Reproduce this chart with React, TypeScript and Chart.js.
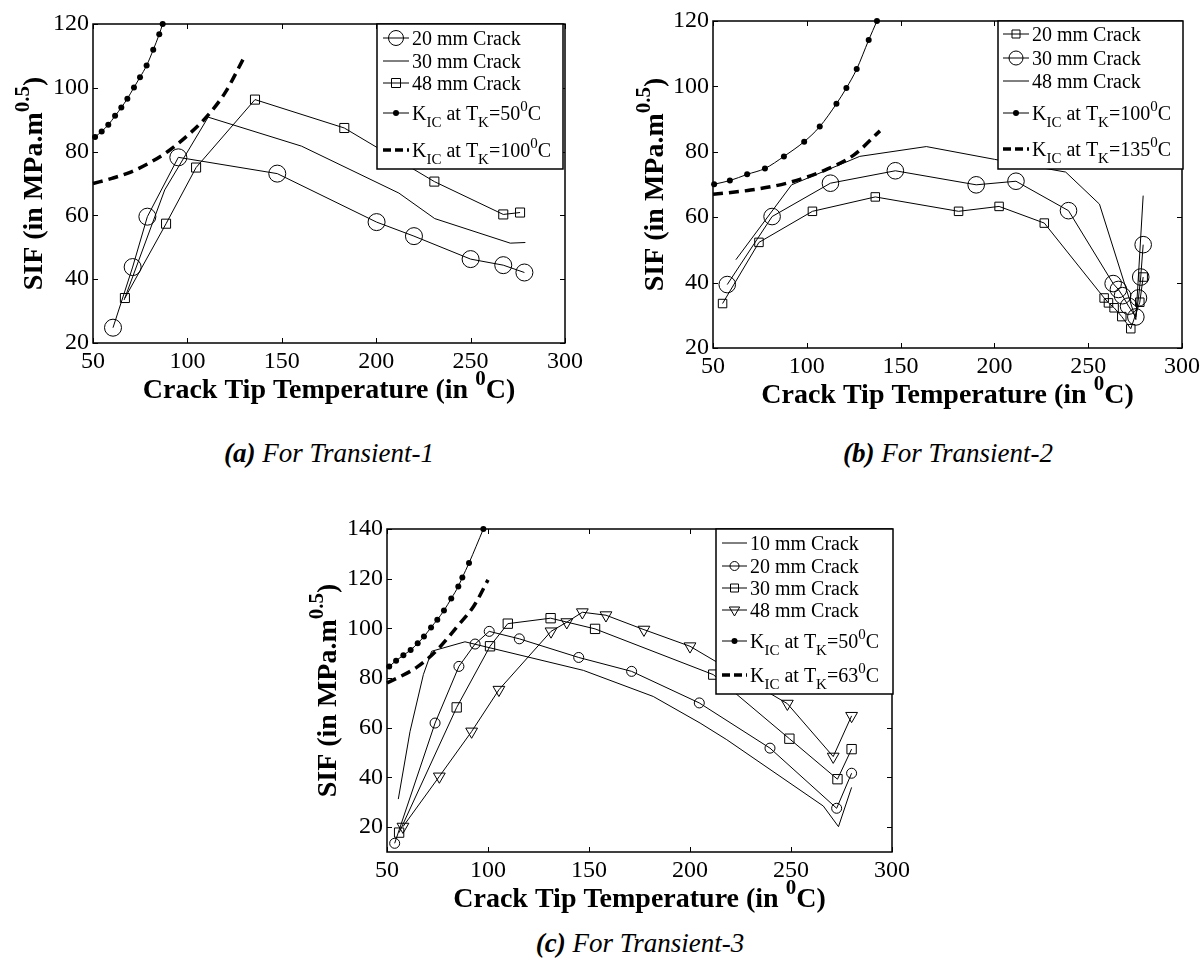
import React, { useEffect, useRef } from 'react';
import { Chart, registerables } from 'chart.js';

Chart.register(...registerables);

const FONT = '"Liberation Serif", "Times New Roman", Times, serif';

// ---------- Panel (a): Transient-1 ----------
const A_TEMP_20 = [60.6, 71, 78.8, 95.2, 147.6, 200.2, 220, 250, 267.3, 278.5];
const A_SIF_20 = [24.8, 43.8, 59.6, 78.2, 73.1, 57.9, 53.5, 46.3, 44.4, 42.1];
const A_TEMP_30 = [66.5, 88, 111, 160.5, 212, 231, 271, 279];
const A_SIF_30 = [33.5, 68, 90.8, 81.7, 67, 59, 51.3, 51.5];
const A_TEMP_48 = [66.9, 88.7, 104.6, 135.8, 183.1, 230.8, 267.3, 276.2];
const A_SIF_48 = [34.1, 57.4, 75, 96.3, 87.4, 70.6, 60.3, 60.9];
const A_TEMP_K50 = [51.1, 54.6, 58.1, 61.7, 65, 68.2, 71.7, 74.9, 78.4, 81.9, 85.1, 86.9];
const A_SIF_K50 = [84.6, 86.3, 88.4, 91.2, 93.8, 96.6, 100.1, 103.3, 107, 111.9, 116.8, 120];
const A_TEMP_K100 = [50, 60, 70, 80, 90, 100, 110, 120, 130];
const A_SIF_K100 = [70, 71.6, 73.6, 76.5, 80.2, 85, 90.8, 98.5, 109.5];

// ---------- Panel (b): Transient-2 ----------
const B_TEMP_20 = [55.1, 74.5, 103, 136.5, 180.9, 202.5, 226.6, 258.5, 260.8, 263.8, 267.9, 272.7, 277.5, 279.3];
const B_SIF_20 = [33.6, 52.3, 61.8, 66.2, 61.8, 63.3, 58.2, 35.3, 33.8, 32.3, 29.6, 25.9, 34, 41.7];
const B_TEMP_30 = [57.6, 81.5, 112.6, 147.2, 190.3, 211.5, 239.5, 263.3, 266.1, 268.3, 271.5, 275.4, 276.8, 278, 279.3];
const B_SIF_30 = [39.4, 60.2, 70.4, 74.2, 69.9, 71, 62, 39.7, 37.9, 36, 32.8, 29.5, 35.3, 41.7, 51.6];
const B_TEMP_48 = [62.2, 91.9, 128.2, 163.7, 200, 238, 256, 275.4, 279.3];
const B_SIF_48 = [47, 69.9, 78.6, 81.6, 77.7, 73.8, 64, 28.7, 66.6];
const B_TEMP_K100 = [50.6, 59, 68.2, 77.7, 87.8, 98.6, 106.9, 115.8, 121.1, 126.6, 133, 137.4];
const B_SIF_K100 = [70.1, 71.2, 73.1, 74.9, 78.6, 83.1, 87.7, 94.7, 99.5, 105.3, 114.2, 120];
const B_TEMP_K135 = [50, 70, 90, 110, 125, 139];
const B_SIF_K135 = [67, 68.3, 70.5, 74.5, 79, 86.4];

// ---------- Panel (c): Transient-3 ----------
const C_TEMP_10 = [55.6, 61.4, 68, 72.1, 88.6, 147.2, 181.8, 205, 218.2, 266, 273.5, 280];
const C_SIF_10 = [31.3, 58.5, 81.4, 90.8, 94.6, 83.1, 72.6, 61.9, 55.2, 28.5, 20.2, 36];
const C_TEMP_20 = [53.8, 73.8, 85.6, 93.6, 100.6, 115.5, 144.9, 171.1, 204.6, 239.6, 272.6, 280];
const C_SIF_20 = [13.5, 61.9, 84.7, 93.7, 98.8, 95.8, 88.3, 82.7, 70, 51.8, 27.6, 41.7];
const C_TEMP_30 = [56, 84.5, 101, 109.8, 131, 153, 211.5, 249.2, 273, 280];
const C_SIF_30 = [17.8, 68.2, 92.8, 101.9, 104.1, 99.8, 81.4, 55.6, 39.3, 51.4];
const C_TEMP_48 = [57.9, 75.9, 91.9, 105.4, 131.2, 139, 146.7, 158.4, 177.2, 200, 248.2, 270.9, 280];
const C_SIF_48 = [20.2, 40.4, 58.5, 75.3, 98.8, 102.5, 106.5, 105.3, 99.5, 92.8, 69.7, 48.4, 64.8];
const C_TEMP_K50 = [51.1, 54.5, 58.1, 61.7, 65.2, 68.3, 71.8, 74.9, 78.2, 81.8, 85.3, 87.3, 90.6, 97.7];
const C_SIF_K50 = [84.7, 87, 89.2, 91.3, 94, 96.7, 100.4, 103.5, 107.2, 112, 116.9, 120.5, 126.3, 140];
const C_TEMP_K63 = [50, 65, 75, 85, 93, 100];
const C_SIF_K63 = [78, 84.5, 91.5, 101, 109, 119.5];

const X_MIN = 50;
const X_MAX = 300;
const X_STEP = 50;
const Y_STEP = 20;

type Seg = { t: string; s?: 'sub' | 'sup' };
type Kind = 'line' | 'circle' | 'square' | 'tri' | 'dot' | 'dash';
type Row = { y: number; kind: Kind; r?: number; segs: Seg[] };
type Legend = { l: number; t: number; r: number; b: number; sx1: number; sx2: number; tx: number; rows: Row[] };

const crack = (n: string): Seg[] => [{ t: `${n} mm Crack` }];
const kic = (tk: string): Seg[] => [
  { t: 'K' }, { t: 'IC', s: 'sub' }, { t: ' at T' }, { t: 'K', s: 'sub' }, { t: `=${tk}` }, { t: '0', s: 'sup' }, { t: 'C' },
];
const Y_TITLE: Seg[] = [{ t: 'SIF (in MPa.m' }, { t: '0.5', s: 'sup' }, { t: ')' }];
const X_TITLE: Seg[] = [{ t: 'Crack Tip Temperature (in ' }, { t: '0', s: 'sup' }, { t: 'C)' }];

const pts = (xs: number[], ys: number[]) => xs.map((x, i) => ({ x, y: ys[i] }));

const marked = (data: any[], style: string, r: number, rot = 0) => ({
  data, borderColor: '#000', borderWidth: 1, pointStyle: style, pointRadius: r, pointRotation: rot,
  pointBorderColor: '#000', pointBackgroundColor: 'rgba(0,0,0,0)', pointBorderWidth: 1, tension: 0, clip: false,
});
const plain = (data: any[]) => ({ data, borderColor: '#000', borderWidth: 1, pointRadius: 0, tension: 0, clip: false });
const dots = (data: any[]) => ({
  data, borderColor: '#000', borderWidth: 1, pointStyle: 'circle', pointRadius: 3, pointBackgroundColor: '#000',
  pointBorderColor: '#000', pointBorderWidth: 0, cubicInterpolationMode: 'monotone', clip: false,
});
const dashed = (data: any[]) => ({
  data, borderColor: '#000', borderWidth: 3.5, borderDash: [10, 6], pointRadius: 0, cubicInterpolationMode: 'monotone', clip: false,
});

function drawRich(ctx: CanvasRenderingContext2D, segs: Seg[], x: number, baseline: number, size: number, bold: boolean, center: boolean) {
  const base = `${bold ? 'bold ' : ''}${size}px ${FONT}`;
  const small = `${bold ? 'bold ' : ''}${Math.round(size * 0.75)}px ${FONT}`;
  let total = 0;
  const widths = segs.map((sg) => {
    ctx.font = sg.s ? small : base;
    const w = ctx.measureText(sg.t).width;
    total += w;
    return w;
  });
  let cx = center ? x - total / 2 : x;
  ctx.textAlign = 'left';
  ctx.textBaseline = 'alphabetic';
  segs.forEach((sg, i) => {
    ctx.font = sg.s ? small : base;
    const dy = sg.s === 'sub' ? size * 0.36 : sg.s === 'sup' ? -size * 0.45 : 0;
    ctx.fillText(sg.t, cx, baseline + dy);
    cx += widths[i];
  });
}

function drawSample(ctx: CanvasRenderingContext2D, row: Row, x1: number, x2: number) {
  const y = row.y;
  const mid = (x1 + x2) / 2;
  ctx.strokeStyle = '#000';
  ctx.fillStyle = '#000';
  ctx.setLineDash([]);
  ctx.lineWidth = 1;
  if (row.kind === 'dash') {
    ctx.lineWidth = 3.5;
    ctx.setLineDash([8, 4]);
    ctx.beginPath();
    ctx.moveTo(x1, y);
    ctx.lineTo(x2, y);
    ctx.stroke();
    ctx.setLineDash([]);
    return;
  }
  ctx.beginPath();
  ctx.moveTo(x1, y);
  ctx.lineTo(x2, y);
  ctx.stroke();
  const r = row.r ?? 5;
  ctx.beginPath();
  if (row.kind === 'circle') {
    ctx.arc(mid, y, r, 0, Math.PI * 2);
    ctx.stroke();
  } else if (row.kind === 'square') {
    ctx.rect(mid - r, y - r, 2 * r, 2 * r);
    ctx.stroke();
  } else if (row.kind === 'tri') {
    ctx.moveTo(mid, y + r);
    ctx.lineTo(mid - r * 0.866, y - r / 2);
    ctx.lineTo(mid + r * 0.866, y - r / 2);
    ctx.closePath();
    ctx.stroke();
  } else if (row.kind === 'dot') {
    ctx.arc(mid, y, 3, 0, Math.PI * 2);
    ctx.fill();
  }
}

type PanelCfg = {
  id: string; left: number; top: number; w: number; h: number;
  padTop: number; padRight: number; yW: number; xH: number;
  yMin: number; yMax: number; datasets: any[]; legend: Legend;
  yTitleX: number; xTitleY: number;
};

function decorPlugin(p: PanelCfg) {
  return {
    id: 'decor_' + p.id,
    afterDatasetsDraw(chart: any) {
      const ctx: CanvasRenderingContext2D = chart.ctx;
      const a = chart.chartArea;
      const xs = chart.scales.x;
      const ys = chart.scales.y;
      ctx.save();
      ctx.strokeStyle = '#000';
      ctx.setLineDash([]);
      ctx.lineWidth = 1;
      ctx.beginPath();
      for (const t of xs.ticks) {
        const px = Math.round(xs.getPixelForValue(t.value)) + 0.5;
        ctx.moveTo(px, a.bottom);
        ctx.lineTo(px, a.bottom - 5);
        ctx.moveTo(px, a.top);
        ctx.lineTo(px, a.top + 5);
      }
      for (const t of ys.ticks) {
        const py = Math.round(ys.getPixelForValue(t.value)) + 0.5;
        ctx.moveTo(a.left, py);
        ctx.lineTo(a.left + 5, py);
        ctx.moveTo(a.right, py);
        ctx.lineTo(a.right - 5, py);
      }
      ctx.stroke();
      ctx.lineWidth = 1.5;
      ctx.strokeRect(a.left, a.top, a.right - a.left, a.bottom - a.top);

      const L = p.legend;
      ctx.fillStyle = '#fff';
      ctx.fillRect(L.l, L.t, L.r - L.l, L.b - L.t);
      ctx.lineWidth = 1.5;
      ctx.strokeStyle = '#000';
      ctx.strokeRect(L.l, L.t, L.r - L.l, L.b - L.t);
      for (const row of L.rows) {
        drawSample(ctx, row, L.sx1, L.sx2);
        ctx.fillStyle = '#000';
        drawRich(ctx, row.segs, L.tx, row.y + 7, 20, false, false);
      }

      ctx.fillStyle = '#000';
      const cx = (a.left + a.right) / 2;
      drawRich(ctx, X_TITLE, cx, p.xTitleY + 9, 28, true, true);
      const cy = (a.top + a.bottom) / 2;
      ctx.save();
      ctx.translate(p.yTitleX, cy);
      ctx.rotate(-Math.PI / 2);
      drawRich(ctx, Y_TITLE, 0, 9, 28, true, true);
      ctx.restore();
      ctx.restore();
    },
  };
}

function buildConfig(p: PanelCfg): any {
  const tickFont = { family: FONT, size: 24 };
  return {
    type: 'line',
    data: { datasets: p.datasets },
    options: {
      responsive: false,
      animation: false,
      events: [],
      layout: { padding: { left: 0, top: p.padTop, right: p.padRight, bottom: 0 } },
      plugins: { legend: { display: false }, tooltip: { enabled: false }, title: { display: false } },
      scales: {
        x: {
          type: 'linear', min: X_MIN, max: X_MAX,
          ticks: { stepSize: X_STEP, font: tickFont, color: '#000', padding: 4, maxRotation: 0, autoSkip: false, includeBounds: false },
          grid: { display: false, drawTicks: false },
          border: { display: false },
          afterFit: (s: any) => { s.height = p.xH; },
        },
        y: {
          type: 'linear', min: p.yMin, max: p.yMax,
          ticks: { stepSize: Y_STEP, font: tickFont, color: '#000', padding: 4, autoSkip: false, includeBounds: false },
          grid: { display: false, drawTicks: false },
          border: { display: false },
          afterFit: (s: any) => { s.width = p.yW; },
        },
      },
    },
    plugins: [decorPlugin(p)],
  };
}

const PANEL_A: PanelCfg = {
  id: 'a', left: 0, top: 0, w: 610, h: 420, padTop: 24, padRight: 45, yW: 93, xH: 77,
  yMin: 20, yMax: 120, yTitleX: 33, xTitleY: 389,
  datasets: [
    marked(pts(A_TEMP_20, A_SIF_20), 'circle', 8.5),
    plain(pts(A_TEMP_30, A_SIF_30)),
    marked(pts(A_TEMP_48, A_SIF_48), 'rect', 6.4),
    dots(pts(A_TEMP_K50, A_SIF_K50)),
    dashed(pts(A_TEMP_K100, A_SIF_K100)),
  ],
  legend: {
    l: 377, t: 24, r: 563, b: 169, sx1: 383, sx2: 409, tx: 412,
    rows: [
      { y: 38, kind: 'circle', r: 7.5, segs: crack('20') },
      { y: 61, kind: 'line', segs: crack('30') },
      { y: 83, kind: 'square', r: 4.5, segs: crack('48') },
      { y: 113, kind: 'dot', segs: kic('50') },
      { y: 150, kind: 'dash', segs: kic('100') },
    ],
  },
};

const PANEL_B: PanelCfg = {
  id: 'b', left: 620, top: 0, w: 584, h: 425, padTop: 21, padRight: 21, yW: 93, xH: 77,
  yMin: 20, yMax: 120, yTitleX: 34, xTitleY: 394,
  datasets: [
    marked(pts(B_TEMP_20, B_SIF_20), 'rect', 6),
    marked(pts(B_TEMP_30, B_SIF_30), 'circle', 8.3),
    plain(pts(B_TEMP_48, B_SIF_48)),
    dots(pts(B_TEMP_K100, B_SIF_K100)),
    dashed(pts(B_TEMP_K135, B_SIF_K135)),
  ],
  legend: {
    l: 378, t: 21, r: 563, b: 169, sx1: 383, sx2: 409, tx: 412,
    rows: [
      { y: 34, kind: 'square', r: 4, segs: crack('20') },
      { y: 58, kind: 'circle', r: 7, segs: crack('30') },
      { y: 81, kind: 'line', segs: crack('48') },
      { y: 113, kind: 'dot', segs: kic('100') },
      { y: 149, kind: 'dash', segs: kic('135') },
    ],
  },
};

const PANEL_C: PanelCfg = {
  id: 'c', left: 290, top: 500, w: 640, h: 420, padTop: 29, padRight: 38, yW: 97, xH: 68,
  yMin: 10, yMax: 140, yTitleX: 37, xTitleY: 398,
  datasets: [
    plain(pts(C_TEMP_10, C_SIF_10)),
    marked(pts(C_TEMP_20, C_SIF_20), 'circle', 5),
    marked(pts(C_TEMP_30, C_SIF_30), 'rect', 6.6),
    marked(pts(C_TEMP_48, C_SIF_48), 'triangle', 6.8, 180),
    dots(pts(C_TEMP_K50, C_SIF_K50)),
    dashed(pts(C_TEMP_K63, C_SIF_K63)),
  ],
  legend: {
    l: 426, t: 29, r: 603, b: 194, sx1: 432, sx2: 457, tx: 460,
    rows: [
      { y: 43, kind: 'line', segs: crack('10') },
      { y: 66, kind: 'circle', r: 4.5, segs: crack('20') },
      { y: 88, kind: 'square', r: 4, segs: crack('30') },
      { y: 110, kind: 'tri', r: 6, segs: crack('48') },
      { y: 141, kind: 'dot', segs: kic('50') },
      { y: 175, kind: 'dash', segs: kic('63') },
    ],
  },
};

function Panel({ cfg }: { cfg: PanelCfg }) {
  const ref = useRef<HTMLCanvasElement>(null);
  useEffect(() => {
    const chart = new Chart(ref.current as HTMLCanvasElement, buildConfig(cfg));
    return () => chart.destroy();
  }, [cfg]);
  return (
    <canvas
      ref={ref}
      width={cfg.w}
      height={cfg.h}
      style={{ position: 'absolute', left: cfg.left, top: cfg.top, width: cfg.w, height: cfg.h }}
    />
  );
}

function Caption({ cx, cy, tag, text }: { cx: number; cy: number; tag: string; text: string }) {
  return (
    <div
      style={{
        position: 'absolute', left: cx - 200, top: cy - 17, width: 400, height: 34, lineHeight: '34px',
        textAlign: 'center', fontFamily: FONT, fontStyle: 'italic', fontSize: 27, color: '#000', whiteSpace: 'nowrap',
      }}
    >
      <b>{tag}</b> {text}
    </div>
  );
}

export default function App() {
  return (
    <div style={{ position: 'absolute', left: 0, top: 0, width: 1204, height: 962, background: '#fff', overflow: 'hidden' }}>
      <Panel cfg={PANEL_A} />
      <Panel cfg={PANEL_B} />
      <Panel cfg={PANEL_C} />
      <Caption cx={329} cy={453} tag="(a)" text="For Transient-1" />
      <Caption cx={948} cy={453} tag="(b)" text="For Transient-2" />
      <Caption cx={640} cy={943} tag="(c)" text="For Transient-3" />
    </div>
  );
}
